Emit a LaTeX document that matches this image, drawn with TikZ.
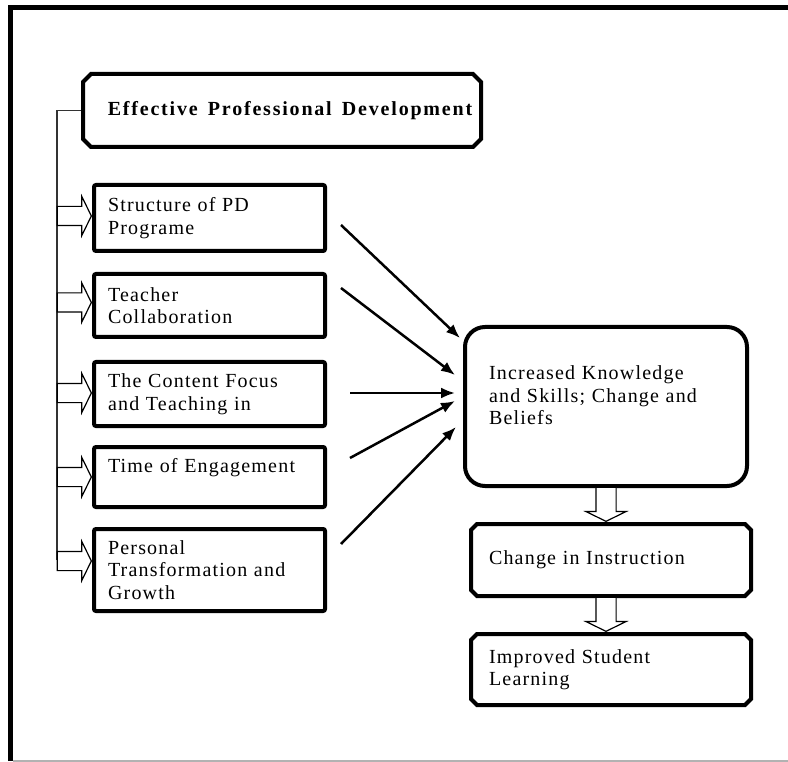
\documentclass[tikz,border=0pt]{standalone}
\usepackage{fontspec}
\setmainfont{Liberation Serif}[LetterSpace=6]
\newfontfamily\titlefont{Liberation Serif}[LetterSpace=9,WordSpace=1.5]
\usetikzlibrary{arrows.meta}
\usetikzlibrary{shapes.misc}
\usetikzlibrary{shapes.arrows}

\tikzset{
  txt/.style={font=\fontsize{20}{22.5}\selectfont},
  factor/.style={txt, draw, line width=4pt, rounded corners=2pt, align=left,
    minimum width=231pt, text width=203pt, inner xsep=14pt},
  outcome/.style={txt, draw, line width=4pt, chamfered rectangle,
    chamfered rectangle xsep=3pt, chamfered rectangle ysep=3pt, align=left,
    minimum width=274pt, text width=244pt, inner xsep=15pt},
  blockarrow/.style={single arrow, draw, line width=1.2pt, fill=white,
    inner xsep=0pt, inner ysep=9pt, minimum height=34pt,
    single arrow head extend=10pt, single arrow tip angle=128},
  blockdown/.style={blockarrow, shape border rotate=270, inner xsep=9.5pt, inner ysep=0pt},
  effect/.style={line width=2.5pt, -{Latex[length=14pt,width=11pt]}},
  bracket/.style={line width=1.3pt, black!80}
}

\begin{document}
\begin{tikzpicture}[x=1pt,y=-1pt]
		\useasboundingbox (0,0) rectangle (788,762);
		% frame
		\draw[line width=4.5pt] (10.5,761) -- (10.5,7.5) -- (788,7.5);
		\draw[line width=1.5pt,black!30] (12.5,761) -- (788,761);
		% title
		\node[txt, draw, line width=4pt, chamfered rectangle, chamfered rectangle xsep=4pt,
		  chamfered rectangle ysep=4pt, minimum width=398pt, minimum height=73pt]
		  (title) at (282,110.5) {\titlefont\bfseries\hspace*{16pt}Effective Professional Development};
		% factors
		\node[factor, minimum height=66pt] (s1) at (209.5,218) {Structure of PD\\Programe};
		\node[factor, minimum height=63pt] (s2) at (209.5,305.5) {Teacher\\Collaboration};
		\node[factor, minimum height=64pt] (s3) at (209.5,394) {The Content Focus\\and Teaching in};
		\node[factor, minimum height=60pt] (s4) at (209.5,477) {Time of Engagement\\\mbox{}};
		\node[factor, minimum height=82pt] (s5) at (209.5,570) {Personal\\Transformation and\\Growth};
		% outcomes
		\node[txt, draw, line width=4pt, rounded corners=20pt, align=left, minimum width=282pt,
		  minimum height=159pt, text width=234pt, inner xsep=24pt]
		  (know) at (606,406.5) {Increased Knowledge\\and Skills; Change and\\Beliefs\\\mbox{}};
		\node[outcome, minimum height=72pt] (chg) at (611,560) {Change in Instruction};
		\node[outcome, minimum height=71pt] (imp) at (611,669.5) {Improved Student\\Learning};
		% bracket and block arrows
		\coordinate (brk) at (57,560);
		\draw[bracket] (title.west) -| (brk);
		\node[blockarrow, anchor=tip] (a1) at ([yshift=2pt]s1.west) {};
		\node[blockarrow, anchor=tip] (a2) at ([yshift=3pt]s2.west) {};
		\node[blockarrow, anchor=tip] (a3) at ([yshift=1pt]s3.west) {};
		\node[blockarrow, anchor=tip] (a4) at (s4.west) {};
		\node[blockarrow, anchor=tip] (a5) at ([yshift=9pt]s5.west) {};
		\node[blockdown, anchor=tip] (d1) at (know.south |- chg.north) {};
		\node[blockdown, anchor=tip] (d2) at (know.south |- imp.north) {};
		% effects
		\draw[effect] ([xshift=14pt,yshift=-7pt]s1.east) -- ([xshift=-3pt,yshift=68.5pt]know.west);
		\draw[effect] ([xshift=14pt,yshift=17.5pt]s2.east) -- ([xshift=-8pt,yshift=31.5pt]know.west);
		\draw[effect] ([xshift=23pt,yshift=1pt]s3.east) -- ([xshift=-8pt,yshift=13.5pt]know.west);
		\draw[effect] ([xshift=23pt,yshift=19pt]s4.east) -- ([xshift=-8pt,yshift=5.5pt]know.west);
		\draw[effect] ([xshift=14pt,yshift=26pt]s5.east) -- ([xshift=-7pt,yshift=-20.5pt]know.west);
\end{tikzpicture}
\end{document}
